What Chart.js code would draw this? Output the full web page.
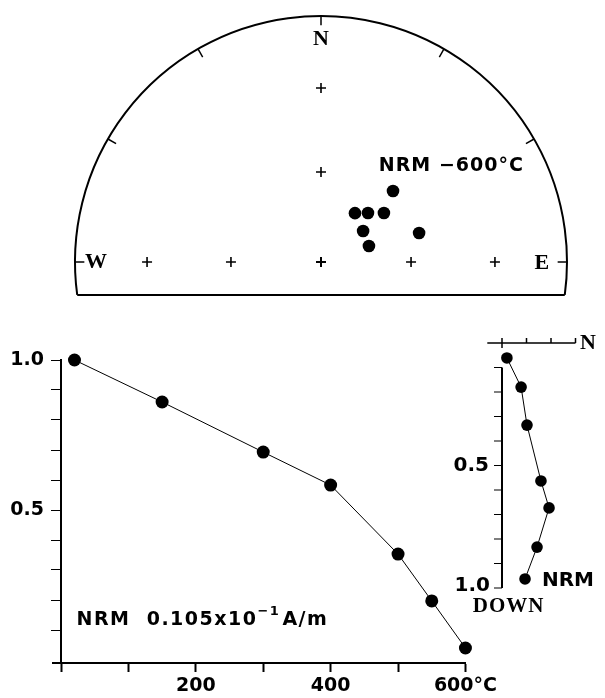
<!DOCTYPE html>
<html lang="en">
<head>
<meta charset="UTF-8">
<title>NRM thermal demagnetization</title>
<script src="https://cdn.jsdelivr.net/npm/chart.js"></script>
<style>
    body { margin: 0; background: #fff; }
    #wrap { position: relative; width: 605px; height: 698px; }
    canvas { position: absolute; }
</style>
</head>
<body>
<div id="wrap">
    <canvas id="net" width="605" height="300" style="left:0;top:0"></canvas>
    <canvas id="decay" width="500" height="368" style="left:0;top:330px"></canvas>
    <canvas id="zij" width="165" height="300" style="left:440px;top:320px"></canvas>
</div>
<script>
// stereonet: directions NRM - 600°C (declination, inclination)
var declinations = [45.4, 34.8, 43.8, 52.1, 53.6, 73.5, 71.6];
var inclinations = [56.2, 70.3, 67.5, 63.5, 72.7, 55.8, 73.3];
var gridDecs = [0, 90, 270];
var gridIncs = [90, 60, 30];
var rimTicks = [-90, -60, -30, 0, 30, 60, 90];

// normalised intensity vs temperature
var temps = [20, 150, 300, 400, 500, 550, 600];
var intensity = [1.0, 0.86, 0.693, 0.583, 0.353, 0.197, 0.04];
var tempTicks = [0, 100, 200, 300, 400, 500, 600];
var tempLabels = ['', '', '200', '', '400', '', '600°C'];
var intTicks = [0.1, 0.2, 0.3, 0.4, 0.5, 0.6, 0.7, 0.8, 0.9, 1.0];

// vertical projection inset (N component, DOWN component)
var northComp = [0.094, 0.143, 0.192, 0.159, 0.102, 0.078, 0.020];
var downComp = [0.963, 0.833, 0.673, 0.563, 0.335, 0.180, 0.061];
var downTicks = [0.1, 0.2, 0.3, 0.4, 0.5, 0.6, 0.7, 0.8, 0.9, 1.0];
var northTicks = [0.1, 0.2, 0.3];

var SANS = 'DejaVu Sans';
var SERIF = 'Liberation Serif';

function equalArea(dec, inc) {
    var r = Math.SQRT2 * Math.sin((90 - Math.abs(inc)) / 2 * Math.PI / 180);
    var d = dec * Math.PI / 180;
    return { x: r * Math.sin(d), y: r * Math.cos(d) };
}

var baseOpts = {
    responsive: false,
    animation: false,
    events: [],
    plugins: { legend: { display: false }, tooltip: { enabled: false } }
};

// ---------- stereonet ----------
var cx = 321, cy = 262, R = 246;
var netPoints = declinations.map((d, i) => equalArea(d, inclinations[i]));
var gridPoints = [];
gridDecs.forEach(d => gridIncs.forEach(inc => gridPoints.push(equalArea(d, inc))));
var netBottom = -0.134;

var netPlugin = {
    id: 'netFrame',
    afterDatasetsDraw(chart) {
        var ctx = chart.ctx, xs = chart.scales.x, ys = chart.scales.y;
        var ox = xs.getPixelForValue(0), oy = ys.getPixelForValue(0);
        var rad = xs.getPixelForValue(1) - ox;
        var a0 = Math.asin(-netBottom);
        ctx.save();
        ctx.strokeStyle = '#000';
        ctx.lineWidth = 2;
        ctx.beginPath();
        ctx.arc(ox, oy, rad, Math.PI - a0, 2 * Math.PI + a0);
        ctx.stroke();
        var by = ys.getPixelForValue(netBottom);
        ctx.beginPath();
        ctx.moveTo(xs.getPixelForValue(-Math.cos(a0)), by);
        ctx.lineTo(xs.getPixelForValue(Math.cos(a0)), by);
        ctx.stroke();
        ctx.lineWidth = 1.5;
        rimTicks.forEach(az => {
            var a = az * Math.PI / 180;
            ctx.beginPath();
            ctx.moveTo(xs.getPixelForValue(Math.sin(a)), ys.getPixelForValue(Math.cos(a)));
            ctx.lineTo(xs.getPixelForValue(0.962 * Math.sin(a)), ys.getPixelForValue(0.962 * Math.cos(a)));
            ctx.stroke();
        });
        ctx.fillStyle = '#000';
        ctx.textAlign = 'center';
        ctx.textBaseline = 'middle';
        ctx.font = 'bold 22px ' + SERIF;
        ctx.fillText('N', xs.getPixelForValue(0), ys.getPixelForValue(0.905));
        ctx.fillText('W', xs.getPixelForValue(-0.915), ys.getPixelForValue(0));
        ctx.fillText('E', xs.getPixelForValue(0.898), ys.getPixelForValue(-0.005));
        ctx.font = 'bold 19px ' + SANS;
        ctx.letterSpacing = '1px';
        ctx.fillText('NRM \u2212600°C', xs.getPixelForValue(0.53), ys.getPixelForValue(0.39));
        ctx.restore();
    }
};

new Chart(document.getElementById('net'), {
    type: 'scatter',
    data: {
        datasets: [{
            data: netPoints,
            pointRadius: 6.3,
            pointBackgroundColor: '#000',
            pointBorderWidth: 0,
            clip: false
        }, {
            data: gridPoints,
            pointStyle: 'cross',
            pointRadius: 5,
            borderColor: '#000',
            pointBorderWidth: 1.6,
            clip: false
        }]
    },
    options: Object.assign({}, baseOpts, {
        layout: { padding: 0, autoPadding: false },
        scales: {
            x: { display: false, min: -cx / R, max: (605 - cx) / R },
            y: { display: false, min: (cy - 300) / R, max: cy / R }
        }
    }),
    plugins: [netPlugin]
});

// ---------- intensity decay ----------
var decayPlugin = {
    id: 'decayExtras',
    afterDraw(chart) {
        var ctx = chart.ctx, xs = chart.scales.x, ys = chart.scales.y;
        var area = chart.chartArea;
        ctx.save();
        ctx.strokeStyle = '#000';
        ctx.lineWidth = 2;
        ctx.beginPath();
        ctx.moveTo(area.left - 9, area.bottom);
        ctx.lineTo(area.left, area.bottom);
        ctx.stroke();
        ctx.fillStyle = '#000';
        ctx.textBaseline = 'middle';
        ctx.textAlign = 'left';
        ctx.letterSpacing = '1.5px';
        ctx.font = 'bold 19px ' + SANS;
        var tx = xs.getPixelForValue(23), ty = ys.getPixelForValue(0.133);
        var s1 = 'NRM  0.105x10';
        ctx.fillText(s1, tx, ty);
        tx += ctx.measureText(s1).width;
        ctx.font = 'bold 13px ' + SANS;
        ctx.fillText('\u22121', tx, ty - 8);
        tx += ctx.measureText('\u22121').width + 2;
        ctx.font = 'bold 19px ' + SANS;
        ctx.fillText('A/m', tx, ty);
        ctx.restore();
    }
};

new Chart(document.getElementById('decay'), {
    type: 'line',
    data: {
        datasets: [{
            data: temps.map((t, i) => ({ x: t, y: intensity[i] })),
            borderColor: '#000',
            borderWidth: 1,
            pointRadius: 6.5,
            pointBackgroundColor: '#000',
            pointBorderWidth: 0,
            tension: 0,
            clip: false
        }]
    },
    options: Object.assign({}, baseOpts, {
        layout: { padding: { top: 30, right: 18, left: 0, bottom: 0 }, autoPadding: false },
        scales: {
            x: {
                type: 'linear', min: 0, max: 600,
                afterBuildTicks: s => { s.ticks = tempTicks.map(v => ({ value: v })); },
                afterFit: s => { s.height = 35; },
                grid: { drawOnChartArea: false, drawTicks: true, tickLength: 9, tickColor: '#000', tickWidth: 2 },
                border: { display: true, color: '#000', width: 2 },
                ticks: {
                    autoSkip: false, maxRotation: 0, color: '#000', padding: 3,
                    font: { family: SANS, weight: 'bold', size: 19 },
                    callback: v => tempLabels[tempTicks.indexOf(v)]
                }
            },
            y: {
                type: 'linear', min: -0.01, max: 1.0,
                afterBuildTicks: s => { s.ticks = intTicks.map(v => ({ value: v })); },
                afterFit: s => { s.width = 61; },
                grid: { drawOnChartArea: false, drawTicks: true, tickLength: 10, tickColor: '#000', tickWidth: 1 },
                border: { display: true, color: '#000', width: 2 },
                ticks: {
                    autoSkip: false, color: '#000', padding: 7,
                    font: { family: SANS, weight: 'bold', size: 19 },
                    callback: v => v === 0.5 ? '0.5' : (v === 1 ? '1.0' : '')
                }
            }
        }
    }),
    plugins: [decayPlugin]
});

// ---------- vertical projection inset ----------
var zx0 = 62, zy0 = 23, zk = 245;
var zijPlugin = {
    id: 'zijAxes',
    beforeDatasetsDraw(chart) {
        var ctx = chart.ctx, xs = chart.scales.x, ys = chart.scales.y;
        var px = v => xs.getPixelForValue(v), py = v => ys.getPixelForValue(v);
        ctx.save();
        ctx.strokeStyle = '#000';
        ctx.lineWidth = 1.5;
        ctx.beginPath();
        ctx.moveTo(px(-0.06), py(0));
        ctx.lineTo(px(0.3), py(0));
        ctx.moveTo(px(0), py(0) - 5);
        ctx.lineTo(px(0), py(0) + 5);
        northTicks.forEach(v => {
            ctx.moveTo(px(v), py(0));
            ctx.lineTo(px(v), py(0) - 5);
        });
        ctx.stroke();
        ctx.lineWidth = 2;
        ctx.beginPath();
        ctx.moveTo(px(0), py(0.1));
        ctx.lineTo(px(0), py(1.0));
        ctx.stroke();
        ctx.lineWidth = 1.2;
        ctx.beginPath();
        downTicks.forEach(v => {
            ctx.moveTo(px(0), py(v));
            ctx.lineTo(px(0) - 8, py(v));
        });
        ctx.stroke();
        ctx.fillStyle = '#000';
        ctx.textBaseline = 'middle';
        ctx.textAlign = 'right';
        ctx.font = 'bold 20px ' + SANS;
        ctx.fillText('0.5', px(0) - 13, py(0.5));
        ctx.fillText('1.0', px(0) - 12, py(1.0) - 2);
        ctx.textAlign = 'left';
        ctx.fillText('NRM', px(0.163), py(0.97));
        ctx.font = 'bold 22px ' + SERIF;
        ctx.fillText('N', px(0.318), py(0));
        ctx.textAlign = 'center';
        ctx.letterSpacing = '1px';
        ctx.font = 'bold 21px ' + SERIF;
        ctx.fillText('DOWN', px(0.027), py(1.077));
        ctx.restore();
    }
};

new Chart(document.getElementById('zij'), {
    type: 'scatter',
    data: {
        datasets: [{
            data: northComp.map((n, i) => ({ x: n, y: downComp[i] })),
            showLine: true,
            borderColor: '#000',
            borderWidth: 1,
            pointRadius: 5.8,
            pointBackgroundColor: '#000',
            pointBorderWidth: 0,
            clip: false
        }]
    },
    options: Object.assign({}, baseOpts, {
        layout: { padding: 0, autoPadding: false },
        scales: {
            x: { display: false, min: -zx0 / zk, max: (165 - zx0) / zk },
            y: { display: false, reverse: true, min: -zy0 / zk, max: (300 - zy0) / zk }
        }
    }),
    plugins: [zijPlugin]
});
</script>
</body>
</html>
